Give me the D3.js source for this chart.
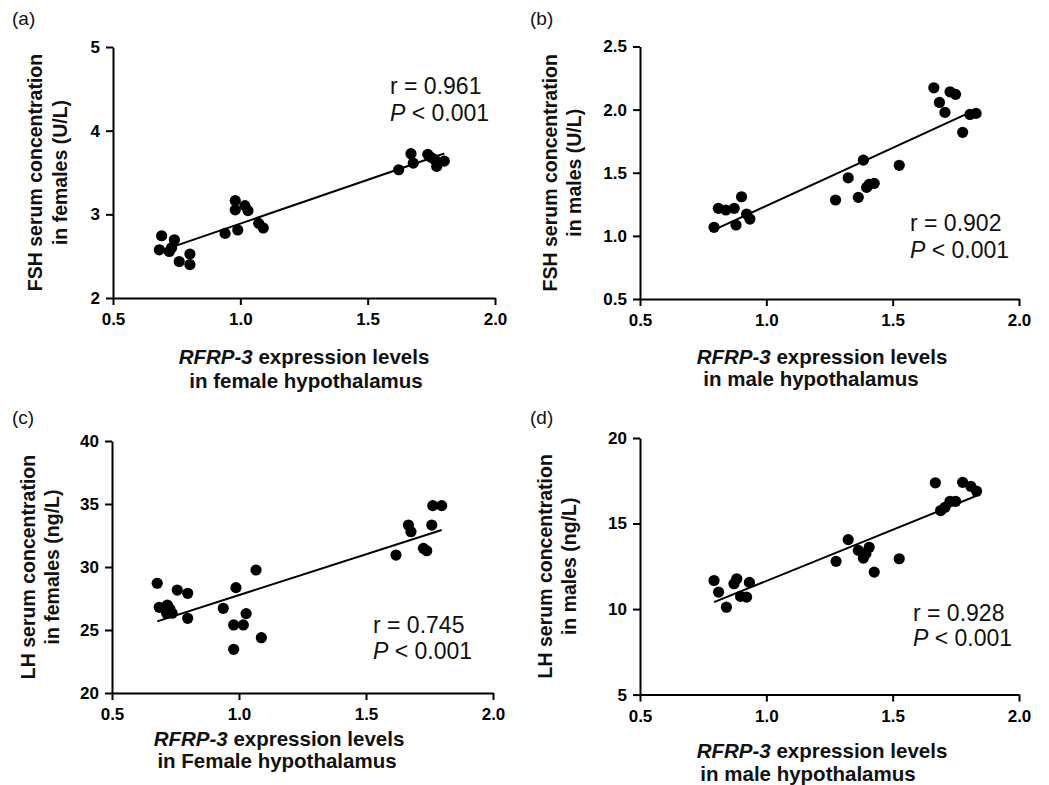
<!DOCTYPE html>
<html>
<head>
<meta charset="utf-8">
<script src="https://cdn.jsdelivr.net/npm/d3@7/dist/d3.min.js"></script>
<style>
  html, body { margin: 0; padding: 0; background: #fff; }
  svg { display: block; font-family: "Liberation Sans", Arial, Helvetica, sans-serif; }
  .tick text { font-weight: bold; }
</style>
</head>
<body>
<svg id="chart" width="1049" height="785"></svg>
<script>
// ---- data ----
const xTickValues = [0.5, 1.0, 1.5, 2.0];

// (a) FSH, females
const fshFemaleX = [0.691, 0.741, 0.682, 0.721, 0.730, 0.760, 0.802, 0.802, 0.940, 0.990, 0.980, 0.980,
                    1.018, 1.030, 1.072, 1.090, 1.622, 1.670, 1.679, 1.736, 1.747, 1.771, 1.801, 1.764];
const fshFemaleY = [2.744, 2.696, 2.576, 2.556, 2.600, 2.436, 2.525, 2.400, 2.772, 2.813, 3.164, 3.053,
                    3.104, 3.044, 2.892, 2.837, 3.533, 3.725, 3.612, 3.717, 3.684, 3.573, 3.636, 3.653];
const fshFemaleTicks = [2, 3, 4, 5];

// (b) FSH, males
const fshMaleX = [0.793, 0.810, 0.840, 0.873, 0.902, 0.880, 0.922, 0.935, 1.274, 1.324, 1.364, 1.384,
                  1.397, 1.407, 1.427, 1.526, 1.663, 1.685, 1.707, 1.727, 1.749, 1.777, 1.806, 1.830];
const fshMaleY = [1.068, 1.218, 1.205, 1.218, 1.310, 1.086, 1.173, 1.133, 1.284, 1.460, 1.305, 1.600,
                  1.384, 1.408, 1.416, 1.559, 2.173, 2.057, 1.978, 2.141, 2.121, 1.820, 1.962, 1.970];
const fshMaleTicks = [0.5, 1.0, 1.5, 2.0, 2.5];

// (c) LH, females
const lhFemaleX = [0.678, 0.757, 0.798, 0.686, 0.718, 0.715, 0.737, 0.728, 0.798, 0.938, 0.988, 0.979,
                   1.017, 1.028, 1.067, 0.979, 1.088, 1.618, 1.667, 1.677, 1.726, 1.739, 1.759, 1.763, 1.798];
const lhFemaleY = [28.71, 28.17, 27.91, 26.80, 26.98, 26.33, 26.33, 26.67, 25.93, 26.72, 28.36, 25.40,
                   25.40, 26.30, 29.76, 23.47, 24.39, 30.95, 33.33, 32.80, 31.48, 31.29, 33.33, 34.87, 34.87];
const lhFemaleTicks = [20, 25, 30, 35, 40];

// (d) LH, males
const lhMaleX = [0.793, 0.811, 0.842, 0.872, 0.883, 0.898, 0.922, 0.933, 1.276, 1.324, 1.364, 1.384,
                 1.394, 1.407, 1.427, 1.526, 1.669, 1.690, 1.707, 1.727, 1.749, 1.777, 1.809, 1.832];
const lhMaleY = [11.67, 10.99, 10.11, 11.48, 11.77, 10.74, 10.70, 11.56, 12.79, 14.06, 13.43, 12.98,
                 13.24, 13.61, 12.16, 12.94, 17.38, 15.76, 15.95, 16.30, 16.30, 17.41, 17.18, 16.89];
const lhMaleTicks = [5, 10, 15, 20];

const panelLetters = ["(a)", "(b)", "(c)", "(d)"];
const correlations = ["r = 0.961", "r = 0.902", "r = 0.745", "r = 0.928"];
const pText = "< 0.001";
const yTitles = [
  ["FSH serum concentration", "in females (U/L)"],
  ["FSH serum concentration", "in males (U/L)"],
  ["LH serum concentration", "in females (ng/L)"],
  ["LH serum concentration", "in males (ng/L)"]
];
const xTitleSecondLines = ["in female hypothalamus", "in male hypothalamus",
                           "in Female hypothalamus", "in male hypothalamus"];

// ---- layout ----
const panels = [
  { xs: fshFemaleX, ys: fshFemaleY, yTicks: fshFemaleTicks, yFmt: d3.format("d"),
    left: 113, right: 495, top: 47, bottom: 298,
    letter: [12, 25], yTitleX: [35, 60], xTitleY: [364, 388], xTitleCx: [304, 306],
    stat: [390, 94, 121] },
  { xs: fshMaleX, ys: fshMaleY, yTicks: fshMaleTicks, yFmt: d3.format(".1f"),
    left: 640, right: 1019, top: 46.5, bottom: 299,
    letter: [530, 25], yTitleX: [550, 574], xTitleY: [364, 386], xTitleCx: [822, 811],
    stat: [910, 231, 258] },
  { xs: lhFemaleX, ys: lhFemaleY, yTicks: lhFemaleTicks, yFmt: d3.format("d"),
    left: 112, right: 493, top: 441, bottom: 693,
    letter: [12, 424], yTitleX: [28, 52], xTitleY: [746, 768], xTitleCx: [279, 277],
    stat: [373, 633, 659] },
  { xs: lhMaleX, ys: lhMaleY, yTicks: lhMaleTicks, yFmt: d3.format("d"),
    left: 640, right: 1019, top: 438, bottom: 694.6,
    letter: [530, 424], yTitleX: [545, 569], xTitleY: [758, 781], xTitleCx: [822, 808],
    stat: [913, 621, 646] }
];

const svg = d3.select("#chart");

panels.forEach((p, i) => {
  const yDomain = [p.yTicks[0], p.yTicks[p.yTicks.length - 1]];
  const x = d3.scaleLinear().domain([xTickValues[0], xTickValues[xTickValues.length - 1]])
    .range([p.left, p.right]);
  const y = d3.scaleLinear().domain(yDomain).range([p.bottom, p.top]);

  const g = svg.append("g");

  // axes
  const xAxis = g.append("g")
    .attr("transform", `translate(0,${p.bottom})`)
    .call(d3.axisBottom(x).tickValues(xTickValues).tickFormat(d3.format(".1f"))
      .tickSize(7).tickSizeOuter(0).tickPadding(8));
  const yAxis = g.append("g")
    .attr("transform", `translate(${p.left},0)`)
    .call(d3.axisLeft(y).tickValues(p.yTicks).tickFormat(p.yFmt)
      .tickSize(7).tickSizeOuter(0).tickPadding(6));
  [xAxis, yAxis].forEach(a => {
    a.selectAll("path, line").attr("stroke", "#000").attr("stroke-width", 2);
    a.selectAll("text").attr("fill", "#000").style("font-size", "17px");
  });

  // least-squares fit over the data range
  const mx = d3.mean(p.xs), my = d3.mean(p.ys);
  let sxy = 0, sxx = 0;
  p.xs.forEach((v, k) => { sxy += (v - mx) * (p.ys[k] - my); sxx += (v - mx) * (v - mx); });
  const slope = sxy / sxx, intercept = my - slope * mx;
  const [x0, x1] = d3.extent(p.xs);
  g.append("line")
    .attr("x1", x(x0)).attr("y1", y(intercept + slope * x0))
    .attr("x2", x(x1)).attr("y2", y(intercept + slope * x1))
    .attr("stroke", "#000").attr("stroke-width", 2);

  // points
  g.selectAll("circle.pt").data(p.xs.map((v, k) => [v, p.ys[k]]))
    .join("circle").attr("class", "pt")
    .attr("cx", d => x(d[0])).attr("cy", d => y(d[1]))
    .attr("r", 5.6).attr("fill", "#000");

  // panel letter
  g.append("text").attr("x", p.letter[0]).attr("y", p.letter[1])
    .style("font-size", "19px").attr("fill", "#111").text(panelLetters[i]);

  // correlation statistics
  g.append("text").attr("x", p.stat[0]).attr("y", p.stat[1])
    .style("font-size", "23px").attr("fill", "#111").text(correlations[i]);
  const pt = g.append("text").attr("x", p.stat[0]).attr("y", p.stat[2])
    .style("font-size", "23px").attr("fill", "#111");
  pt.append("tspan").style("font-style", "italic").text("P");
  pt.append("tspan").text(" " + pText);

  // y-axis title (two lines, rotated)
  const cy = (p.top + p.bottom) / 2;
  yTitles[i].forEach((line, k) => {
    g.append("text")
      .attr("transform", `translate(${p.yTitleX[k]},${cy}) rotate(-90)`)
      .attr("text-anchor", "middle").attr("dominant-baseline", "central")
      .style("font-size", "19.5px").style("font-weight", "bold").attr("fill", "#111")
      .text(line);
  });

  // x-axis title (two lines)
  const t1 = g.append("text").attr("x", p.xTitleCx[0]).attr("y", p.xTitleY[0])
    .attr("text-anchor", "middle").style("font-size", "20.5px").style("font-weight", "bold")
    .attr("fill", "#111");
  t1.append("tspan").style("font-style", "italic").text("RFRP-3");
  t1.append("tspan").text(" expression levels");
  g.append("text").attr("x", p.xTitleCx[1]).attr("y", p.xTitleY[1])
    .attr("text-anchor", "middle").style("font-size", "20.5px").style("font-weight", "bold")
    .attr("fill", "#111").text(xTitleSecondLines[i]);
});
</script>
</body>
</html>
